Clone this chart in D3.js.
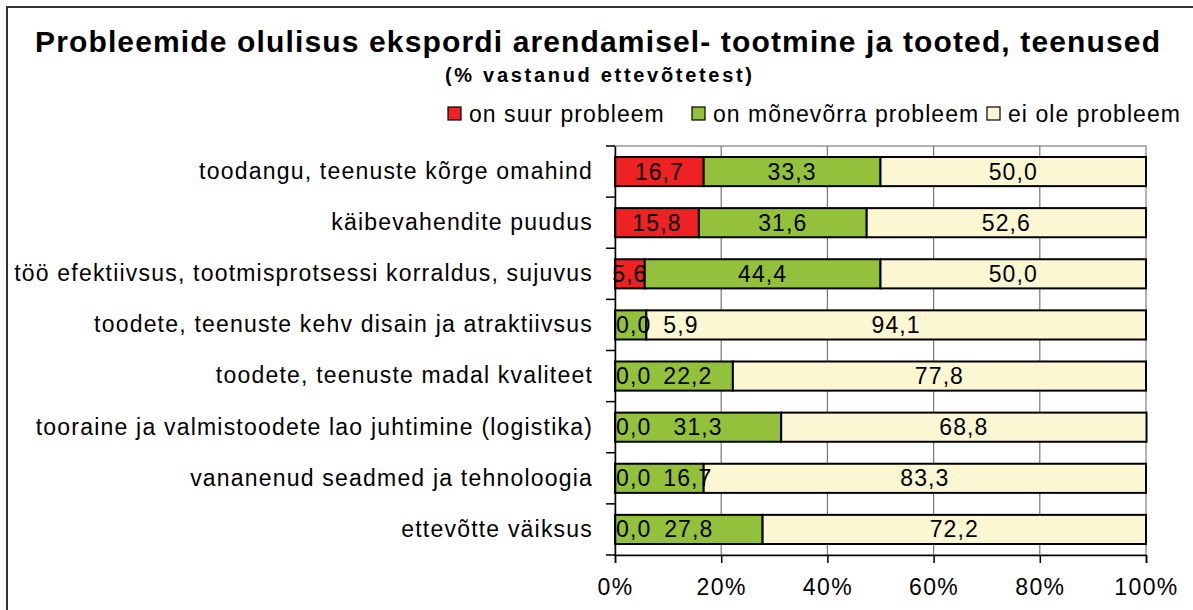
<!DOCTYPE html>
<html>
<head>
<meta charset="utf-8">
<script src="https://cdn.jsdelivr.net/npm/d3@7"></script>
<style>
  body { margin: 0; background: #fff; }
  svg { font-family: "Liberation Sans", Arial, sans-serif; }
</style>
</head>
<body>
<div id="chart"></div>
<script>
// data
var categories = [
  "toodangu, teenuste kõrge omahind",
  "käibevahendite puudus",
  "töö efektiivsus, tootmisprotsessi korraldus, sujuvus",
  "toodete, teenuste kehv disain ja atraktiivsus",
  "toodete, teenuste madal kvaliteet",
  "tooraine ja valmistoodete lao juhtimine (logistika)",
  "vananenud seadmed ja tehnoloogia",
  "ettevõtte väiksus"
];
var seriesNames = ["on suur probleem", "on mõnevõrra probleem", "ei ole probleem"];
var suur = [16.7, 15.8, 5.6, 0.0, 0.0, 0.0, 0.0, 0.0];
var monevorra = [33.3, 31.6, 44.4, 5.9, 22.2, 31.3, 16.7, 27.8];
var eiOle = [50.0, 52.6, 50.0, 94.1, 77.8, 68.8, 83.3, 72.2];
var ticks = [0, 20, 40, 60, 80, 100];
var colors = ["#ee2222", "#93c13c", "#fbf7d3"];

var svgWidth = 1193;
var svgHeight = 610;
var margin = { top: 146, right: 47, bottom: 55, left: 615 };
var width = svgWidth - margin.left - margin.right;
var height = svgHeight - margin.top - margin.bottom;

var svg = d3.select("#chart")
  .append("svg")
  .attr("width", svgWidth)
  .attr("height", svgHeight);

// outer frame
svg.append("rect")
  .attr("x", 7).attr("y", 7)
  .attr("width", 1200).attr("height", 640)
  .attr("fill", "none")
  .attr("stroke", "#333")
  .attr("stroke-width", 2);

// titles
svg.append("text")
  .attr("x", 35).attr("y", 52)
  .attr("textLength", 1125)
  .attr("lengthAdjust", "spacing")
  .style("font-size", "30px")
  .style("font-weight", "bold")
  .text("Probleemide olulisus ekspordi arendamisel- tootmine ja tooted, teenused");

svg.append("text")
  .attr("x", 445).attr("y", 82)
  .attr("textLength", 307)
  .attr("lengthAdjust", "spacing")
  .style("font-size", "20px")
  .style("font-weight", "bold")
  .text("(% vastanud ettevõtetest)");

// legend
var legendX = [448, 692, 987];
var legend = svg.append("g")
  .style("font-size", "23px")
  .style("letter-spacing", "1.05px");
seriesNames.forEach(function(name, i) {
  legend.append("rect")
    .attr("x", legendX[i]).attr("y", 107)
    .attr("width", 13).attr("height", 13)
    .attr("fill", colors[i])
    .attr("stroke", "#000")
    .attr("stroke-width", 1.2);
  legend.append("text")
    .attr("x", legendX[i] + 21).attr("y", 122)
    .text(name);
});

var chartGroup = svg.append("g")
  .attr("transform", `translate(${margin.left}, ${margin.top})`);

var xScale = d3.scaleLinear().domain([0, 100]).range([0, width]);
var yScale = d3.scaleBand().domain(categories).range([0, height]).paddingInner(0.43).paddingOuter(0.215);

// plot area frame + grid
chartGroup.append("rect")
  .attr("x", 0).attr("y", 0)
  .attr("width", width).attr("height", height)
  .attr("fill", "#fff")
  .attr("stroke", "#999")
  .attr("stroke-width", 1.5);

chartGroup.append("g")
  .selectAll("line")
  .data(ticks.slice(1, -1))
  .join("line")
  .attr("x1", d => xScale(d)).attr("x2", d => xScale(d))
  .attr("y1", 0).attr("y2", height)
  .attr("stroke", "#777")
  .attr("stroke-width", 1.2);

// stacked data
var rows = categories.map(function(c, i) {
  return { cat: c, vals: [suur[i], monevorra[i], eiOle[i]] };
});
var segs = [];
rows.forEach(function(r) {
  var x0 = 0;
  r.vals.forEach(function(v, k) {
    segs.push({ cat: r.cat, k: k, v: v, x0: x0, x1: x0 + v });
    x0 += v;
  });
});

chartGroup.append("g")
  .selectAll("rect")
  .data(segs)
  .join("rect")
  .attr("x", d => xScale(d.x0))
  .attr("y", d => yScale(d.cat))
  .attr("width", d => xScale(d.x1) - xScale(d.x0))
  .attr("height", yScale.bandwidth())
  .attr("fill", d => colors[d.k])
  .attr("stroke", "#000")
  .attr("stroke-width", 2);

// axes
var bottomAxis = d3.axisBottom(xScale)
  .tickValues(ticks)
  .tickFormat(d => d + "%")
  .tickSize(8)
  .tickPadding(16);
var xAxisG = chartGroup.append("g")
  .attr("transform", `translate(0, ${height})`)
  .call(bottomAxis);
xAxisG.select(".domain").attr("stroke", "#000").attr("stroke-width", 1.5);
xAxisG.selectAll(".tick line").attr("stroke", "#000").attr("stroke-width", 1.5);
xAxisG.selectAll(".tick text")
  .attr("fill", "#000")
  .style("font-size", "23px")
  .style("letter-spacing", "1.4px")
  .style("font-family", "'Liberation Sans', Arial, sans-serif");

var leftAxis = d3.axisLeft(yScale).tickSize(0).tickPadding(22);
var yAxisG = chartGroup.append("g").call(leftAxis);
yAxisG.select(".domain").attr("stroke", "#000").attr("stroke-width", 1.5);
yAxisG.selectAll(".tick text")
  .attr("fill", "#000")
  .style("font-size", "23px")
  .style("letter-spacing", "1.2px")
  .style("font-family", "'Liberation Sans', Arial, sans-serif");

// category separator ticks
var step = yScale.step();
chartGroup.append("g")
  .selectAll("line")
  .data(d3.range(categories.length + 1))
  .join("line")
  .attr("x1", -9).attr("x2", 0)
  .attr("y1", d => d * step).attr("y2", d => d * step)
  .attr("stroke", "#000")
  .attr("stroke-width", 1.5);

// value labels
var labelG = chartGroup.append("g")
  .style("font-size", "23px")
  .style("letter-spacing", "1.1px");
rows.forEach(function(r) {
  var x0 = 0;
  var prevEnd = -Infinity;
  var yMid = yScale(r.cat) + yScale.bandwidth() / 2 + 8;
  r.vals.forEach(function(v, k) {
    var txt = d3.format(".1f")(v).replace(".", ",");
    var t = labelG.append("text").attr("y", yMid).text(txt);
    var w = t.node().getComputedTextLength();
    var cx;
    if (v === 0) {
      cx = xScale(x0) + 1 + w / 2;
    } else {
      cx = xScale(x0 + v / 2);
      if (cx - w / 2 < prevEnd + 12) cx = prevEnd + 12 + w / 2;
    }
    t.attr("x", cx).attr("text-anchor", "middle");
    prevEnd = cx + w / 2;
    x0 += v;
  });
});
</script>
</body>
</html>
